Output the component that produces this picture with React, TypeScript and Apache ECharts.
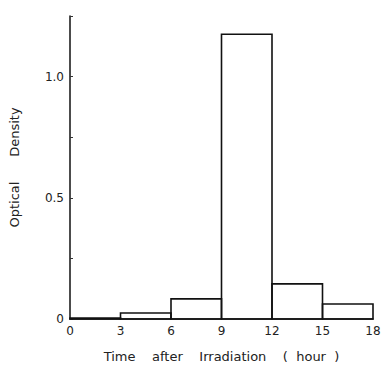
import React, { useEffect, useRef } from "react";
import * as echarts from "echarts";

const binStarts = [0, 3, 6, 9, 12, 15];
const binWidth = 3;
const densities = [0.004, 0.025, 0.083, 1.175, 0.145, 0.062];
const yTickLabels: Record<string, string> = { "0": "0", "0.5": "0.5", "1": "1.0" };

export default function App() {
  const ref = useRef<HTMLDivElement>(null);
  useEffect(() => {
    document.body.style.margin = "0";
    if (!ref.current) return;
    const chart = echarts.init(ref.current, undefined, { renderer: "svg" });
    const data = binStarts.map((s, i) => [s, s + binWidth, densities[i]]);
    const font = "DejaVu Sans";
    chart.setOption({
      animation: false,
      backgroundColor: "#ffffff",
      grid: { left: 70, right: 11, top: 16, bottom: 54 },
      xAxis: {
        type: "value",
        min: 0,
        max: 18,
        interval: 3,
        name: "Time    after    Irradiation    (  hour  )",
        nameLocation: "middle",
        nameGap: 31,
        nameTextStyle: { fontFamily: font, fontSize: 13, color: "#222" },
        axisLine: { show: true, lineStyle: { color: "#111", width: 1.5 } },
        axisTick: { show: false },
        splitLine: { show: false },
        axisLabel: { fontFamily: font, fontSize: 12, color: "#222", margin: 6 },
      },
      yAxis: {
        type: "value",
        min: 0,
        max: 1.25,
        interval: 0.25,
        name: "Optical      Density",
        nameLocation: "middle",
        nameGap: 49,
        nameTextStyle: { fontFamily: font, fontSize: 13, color: "#222" },
        axisLine: { show: true, lineStyle: { color: "#111", width: 1.5 } },
        axisTick: { show: true, inside: true, length: 3, lineStyle: { color: "#333" } },
        splitLine: { show: false },
        axisLabel: {
          fontFamily: font,
          fontSize: 12,
          color: "#222",
          margin: 6,
          formatter: (v: number) => yTickLabels[String(v)] ?? "",
        },
      },
      series: [
        {
          type: "custom",
          data,
          encode: { x: [0, 1], y: 2 },
          renderItem: (params: any, api: any) => {
            const p0 = api.coord([api.value(0), 0]);
            const p1 = api.coord([api.value(1), api.value(2)]);
            return {
              type: "rect",
              shape: { x: p0[0], y: p1[1], width: p1[0] - p0[0], height: p0[1] - p1[1] },
              style: { fill: "none", stroke: "#111", lineWidth: 1.6 },
            };
          },
        },
      ],
    });
    return () => chart.dispose();
  }, []);
  return <div ref={ref} style={{ width: 384, height: 373 }} />;
}
